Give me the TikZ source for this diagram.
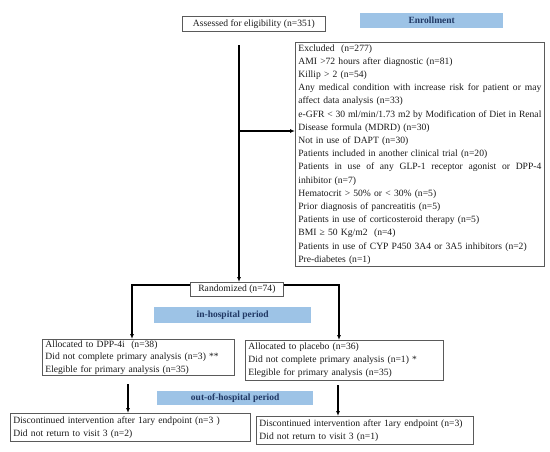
\documentclass[tikz,border=0pt]{standalone}
\usepackage{fontspec}
\setmainfont{Liberation Serif}
\usetikzlibrary{arrows.meta,calc}
\definecolor{bandblue}{HTML}{9DC3E6}
\definecolor{bandtext}{HTML}{203864}
\definecolor{boxline}{HTML}{5A5A5A}
\definecolor{txt}{HTML}{1A1A1A}
\newcommand\jline[1]{\leavevmode\hbox to 243pt{\spaceskip=0.25em plus 1fil minus 0.12em\relax #1}}
\begin{document}
\begin{tikzpicture}[x=1pt,y=-1pt,
  every node/.style={font=\fontsize{9.6}{13.2}\selectfont, text=txt},
  box/.style={draw=boxline, line width=0.8pt, inner xsep=3pt, inner ysep=2pt,
    align=left, anchor=north west},
  band/.style={fill=bandblue, anchor=north west, inner sep=0pt,
    font=\fontsize{9.5}{11}\selectfont\bfseries, text=bandtext},
  arr/.style={line width=1.1pt, -{Latex[length=5pt,width=4pt]}}]
\useasboundingbox (0,0) rectangle (550,451);

\node[box, minimum width=143pt, minimum height=15pt, align=center] (assess) at (182,16)
  {Assessed for eligibility (n=351)};
\node[band, minimum width=143pt, minimum height=15pt] (enroll) at (360,13) {Enrollment};

\node[box, text width=243pt, minimum height=224pt] (excl) at (295,42)
  {Excluded~ (n=277)\\
  AMI >72 hours after diagnostic (n=81)\\
  Killip > 2 (n=54)\\
  \jline{Any medical condition with increase risk for patient or may}\\
  affect data analysis (n=33)\\
  \jline{e-GFR < 30 ml/min/1.73 m2 by Modification of Diet in Renal}\\
  Disease formula (MDRD) (n=30)\\
  Not in use of DAPT (n=30)\\
  Patients included in another clinical trial (n=20)\\
  \jline{Patients in use of any GLP-1 receptor agonist or DPP-4}\\
  inhibitor (n=7)\\
  Hematocrit > 50\% or < 30\% (n=5)\\
  Prior diagnosis of pancreatitis (n=5)\\
  Patients in use of corticosteroid therapy (n=5)\\
  BMI ≥ 50 Kg/m2~ (n=4)\\
  Patients in use of CYP P450 3A4 or 3A5 inhibitors (n=2)\\
  Pre-diabetes (n=1)};

\node[box, minimum width=93pt, minimum height=14pt, align=center, inner ysep=1pt] (rand) at (190,282)
  {Randomized (n=74)};
\node[band, minimum width=157pt, minimum height=16pt] (inhosp) at (154,307) {in-hospital period};

\node[box, text width=186pt, minimum height=36pt, inner ysep=1pt,
  font=\fontsize{9.6}{12.4}\selectfont] (allocL) at (42,339)
  {Allocated to DPP-4i~ (n=38)\\
  Did not complete primary analysis (n=3) **\\
  Elegible for primary analysis (n=35)};
\node[box, text width=192pt, minimum height=40pt] (allocR) at (245,340)
  {Allocated to placebo (n=36)\\
  Did not complete primary analysis (n=1) *\\
  Elegible for primary analysis (n=35)};

\node[band, minimum width=156pt, minimum height=14pt] (outhosp) at (157,391) {out-of-hospital period};

\node[box, text width=234pt, minimum height=28pt] (discL) at (10,413)
  {Discontinued intervention after 1ary endpoint (n=3 )\\
  Did not return to visit 3 (n=2)};
\node[box, text width=211pt, minimum height=28pt] (discR) at (256,416)
  {Discontinued intervention after 1ary endpoint (n=3)\\
  Did not return to visit 3 (n=1)};

% connectors
\coordinate (spine) at (239,45);
\coordinate (tee) at (239,131);
\draw[arr] (spine) -- (spine |- rand.north);
\draw[arr] (tee) -- (tee -| excl.west);

\coordinate (lcorner) at (132,285);
\coordinate (rcorner) at (339,285);
\draw[arr] (rand.west |- lcorner) -- (lcorner) -- (lcorner |- allocL.north);
\draw[arr] (rand.east |- rcorner) -- (rcorner) -- (rcorner |- allocR.north);

\coordinate (ldrop) at (128,384);
\coordinate (rdrop) at (338,385);
\draw[arr] (ldrop) -- (ldrop |- discL.north);
\draw[arr] (rdrop) -- (rdrop |- discR.north);
\end{tikzpicture}
\end{document}
